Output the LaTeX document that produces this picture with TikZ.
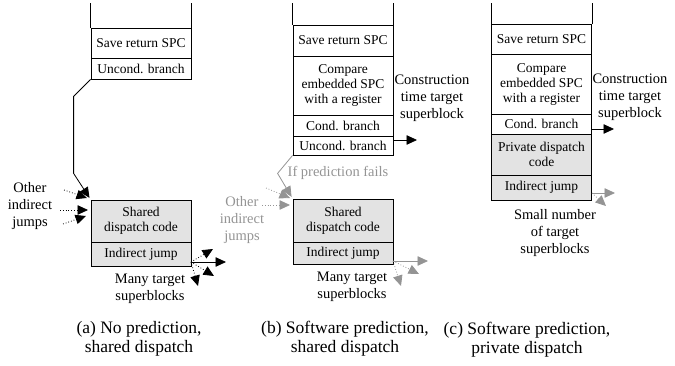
\documentclass[tikz,border=0pt]{standalone}
\usepackage{fontspec}
\setmainfont{Liberation Serif}
\usetikzlibrary{arrows.meta}

\colorlet{faded}{black!42}
\colorlet{dispatchfill}{gray!22}

\tikzset{
    slot/.style={
        draw,
        rectangle,
        line width=.8pt,
        minimum width=100pt,
        inner sep=0pt,
        align=center,
        font=\fontsize{13.5}{15}\selectfont
    },
    dispatch/.style={
        slot,
        fill=dispatchfill
    },
    remark/.style={
        align=center,
        inner sep=0pt,
        font=\fontsize{14.5}{17}\selectfont
    },
    subcap/.style={
        align=center,
        inner sep=0pt,
        font=\fontsize{17.5}{19}\selectfont
    },
    jump/.style={
        -{Triangle[length=10.5pt,width=9.5pt]},
        line width=.8pt
    },
    otherjump/.style={
        jump,
        dotted
    }
}

\begin{document}
\begin{tikzpicture}[x=1pt,y=-1pt]
\useasboundingbox (0,0) rectangle (675,366);

    % (a) no prediction, shared dispatch
    \path
        node[slot,minimum height=30pt] at (141,43)   (asave) {Save return SPC}
        node[slot,minimum height=21pt] at (141,68.5) (aun)   {Uncond. branch}
        node[dispatch,minimum height=42pt] at (141,221) (ash) {Shared\\dispatch code}
        node[dispatch,minimum height=24pt] at (141,254) (aind) {Indirect jump};
    \draw[line width=.8pt] (asave.north west) -- ++(0,-25)
        (asave.north east) -- ++(0,-25);

    \path
        node[remark] at (30,206)  (aoth)  {Other\\indirect\\jumps}
        node[remark] at (150,289) (amany) {Many target\\superblocks}
        node[subcap] at (139,339) (acap)  {(a) No prediction,\\shared dispatch};

    \coordinate (aoth1) at (64,190);
    \coordinate (aoth2) at (60,210);
    \coordinate (aoth3) at (63,224);
    \coordinate (ain1)  at (87,198);
    \coordinate (ain2)  at (88,210);
    \coordinate (ain3)  at (86,216);
    \coordinate (afan)  at (191,262);
    \coordinate (afan1) at (213,249);
    \coordinate (afan2) at (226,262);
    \coordinate (afan3) at (214,276);
    \coordinate (afan4) at (198,286);

    \draw[jump,shorten >=2pt] (aun.south west) -- ++(-17,17) -- ++(0,77)
        -- (ash.north west);
    \path[otherjump]
        (aoth1) edge (ain1)
        (aoth2) edge (ain2)
        (aoth3) edge (ain3);
    \path[otherjump]
        (afan) edge (afan1)
               edge (afan3)
               edge (afan4);
    \path[jump] (afan) edge (afan2);

    % (b) software prediction, shared dispatch
    \path
        node[slot,minimum height=31pt] at (343,40.5)  (bsave) {Save return SPC}
        node[slot,minimum height=59pt] at (343,85.5)  (bcmp)  {Compare\\embedded SPC\\with a register}
        node[slot,minimum height=21pt] at (343,125.5) (bcond) {Cond. branch}
        node[slot,minimum height=19pt] at (343,145.5) (bun)   {Uncond. branch}
        node[dispatch,minimum height=43pt] at (343,220.5) (bsh) {Shared\\dispatch code}
        node[dispatch,minimum height=22pt] at (343,253)   (bind) {Indirect jump};
    \draw[line width=.8pt] (bsave.north west) -- ++(0,-22)
        (bsave.north east) -- ++(0,-22);

    \path
        node[remark] at (432,98)  (bcons) {Construction\\time target\\superblock}
        node[remark,faded] at (338,173) (bfail) {If prediction fails}
        node[remark,faded] at (242,220) (both)  {Other\\indirect\\jumps}
        node[remark] at (352,287) (bmany) {Many target\\superblocks}
        node[subcap] at (345,339) (bcap)  {(b) Software prediction,\\shared dispatch};

    \coordinate (btgt)  at (417,140);
    \coordinate (both1) at (266,188);
    \coordinate (both2) at (262,205);
    \coordinate (bin1)  at (290,198);
    \coordinate (bin2)  at (290,205);
    \coordinate (bfan)  at (393,261);
    \coordinate (bfan1) at (428,261);
    \coordinate (bfan2) at (419,274);
    \coordinate (bfan3) at (401,286);

    \path[jump] (bun.east |- btgt) edge (btgt);
    \draw[jump,faded,shorten >=2pt] (bun.south west) -- ++(-15,18)
        -- (bsh.north west);
    \path[otherjump,faded]
        (both1) edge (bin1)
        (both2) edge (bin2);
    \path[jump,faded] (bfan) edge (bfan1);
    \path[otherjump,faded]
        (bfan) edge (bfan2)
               edge (bfan3);

    % (c) software prediction, private dispatch
    \path
        node[slot,minimum height=30pt] at (541.5,39)  (csave) {Save return SPC}
        node[slot,minimum height=60pt] at (541.5,84)  (ccmp)  {Compare\\embedded SPC\\with a register}
        node[slot,minimum height=20pt] at (541.5,124) (ccond) {Cond. branch}
        node[dispatch,minimum height=41pt] at (541.5,154.5) (cpriv) {Private dispatch\\code}
        node[dispatch,minimum height=25pt] at (541.5,187.5) (cind)  {Indirect jump};
    \draw[line width=.8pt] (csave.north west) -- ++(0,-21)
        (csave.north east) -- ++(0,-21);

    \path
        node[remark] at (630,97)  (ccons)  {Construction\\time target\\superblock}
        node[remark] at (555,233) (csmall) {Small number\\of target\\superblocks}
        node[subcap] at (527,340) (ccap)   {(c) Software prediction,\\private dispatch};

    \coordinate (ctgt)  at (614,129);
    \coordinate (cfan)  at (592,193);
    \coordinate (cfan1) at (615,193);
    \coordinate (cfan2) at (606,206);

    \path[jump] (ccond.east |- ctgt) edge (ctgt);
    \path[jump,faded] (cfan) edge (cfan1);
    \path[otherjump,faded] (cfan) edge (cfan2);
\end{tikzpicture}
\end{document}
